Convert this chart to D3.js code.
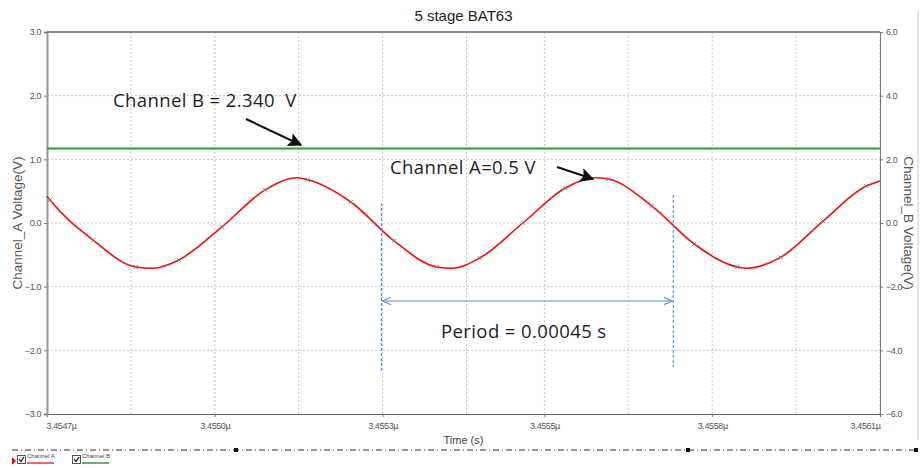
<!DOCTYPE html>
<html>
<head>
<meta charset="utf-8">
<script src="https://cdn.jsdelivr.net/npm/d3@7"></script>
<style>
  body { margin: 0; background: #fff; }
  svg { display: block; font-family: "Liberation Sans", Arial, sans-serif; }
  .tick text { font-size: 9px; fill: #555; letter-spacing: -0.4px; }
  .grid line { stroke: #c8c8c8; stroke-dasharray: 2,2; }
  .note { font-family: "Open Sans", sans-serif; font-size: 18.5px; fill: #1c1c2a; letter-spacing: 0.4px; }
</style>
</head>
<body>
<script>
// Channel A samples (time in s, voltage in V) with markers
var markerTimes = [3.454725, 3.454797, 3.454868, 3.454940, 3.455012, 3.455084, 3.455155,
  3.455227, 3.455299, 3.455370, 3.455442, 3.455514, 3.455585, 3.455657, 3.455729,
  3.455800, 3.455872, 3.455944, 3.456015, 3.456087];
var markerValues = [0.36, -0.27, -0.69, -0.58, -0.06, 0.52, 0.68, 0.33, -0.28, -0.69,
  -0.55, 0.00, 0.55, 0.69, 0.27, -0.33, -0.69, -0.54, 0.03, 0.58];
// extra unmarked points of the trace: ends and turning points
var extraTimes = [3.45472, 3.454897, 3.455137, 3.455396, 3.455634, 3.455888, 3.45611];
var extraValues = [0.42, -0.71, 0.71, -0.71, 0.71, -0.71, 0.66];

var channelB = 2.34;

var xTicks = [3.45472, 3.45500, 3.45528, 3.45555, 3.45583, 3.45611];
var xTickLabels = ["3.4547\u00b5", "3.4550\u00b5", "3.4553\u00b5", "3.4555\u00b5", "3.4558\u00b5", "3.4561\u00b5"];
var xGrid = [3.45486, 3.45514, 3.45542, 3.45569, 3.45597];
var yTicksA = [-3, -2, -1, 0, 1, 2, 3];
var yTicksB = [-6, -4, -2, 0, 2, 4, 6];

var periodStart = 3.455278, periodEnd = 3.455765;

var W = 921, H = 468;
var margin = { top: 32, right: 41, bottom: 54, left: 47 };
var width = W - margin.left - margin.right,
    height = H - margin.top - margin.bottom;

var svg = d3.select("body").append("svg").attr("width", W).attr("height", H);

var x = d3.scaleLinear().domain([xTicks[0], xTicks[xTicks.length - 1]]).range([0, width]);
var yA = d3.scaleLinear().domain([-3, 3]).range([height, 0]);
var yB = d3.scaleLinear().domain([-6, 6]).range([height, 0]);

var defs = svg.append("defs");
defs.append("marker").attr("id", "blk")
  .attr("viewBox", "0 0 10 10").attr("refX", 9).attr("refY", 5)
  .attr("markerWidth", 7).attr("markerHeight", 7).attr("orient", "auto")
  .append("path").attr("d", "M0,0 L10,5 L0,10 L2,5 z").attr("fill", "#111");
defs.append("marker").attr("id", "blu")
  .attr("viewBox", "0 0 10 10").attr("refX", 9).attr("refY", 5)
  .attr("markerWidth", 8).attr("markerHeight", 8).attr("orient", "auto-start-reverse")
  .append("path").attr("d", "M0,1 L9,5 L0,9").attr("fill", "none").attr("stroke", "#5b8ed1").attr("stroke-width", 1.2);

// title
svg.append("text").attr("x", margin.left + width / 2).attr("y", 21)
  .attr("text-anchor", "middle").attr("font-size", 15).attr("fill", "#222")
  .text("5 stage BAT63");

var g = svg.append("g").attr("transform", "translate(" + margin.left + "," + margin.top + ")");

// grid
var grid = g.append("g").attr("class", "grid");
grid.selectAll(".gx").data(xTicks.concat(xGrid)).enter().append("line")
  .attr("x1", function (d) { return x(d); }).attr("x2", function (d) { return x(d); })
  .attr("y1", 0).attr("y2", height);
grid.selectAll(".gy").data(yTicksA.slice(1, -1)).enter().append("line")
  .attr("x1", 0).attr("x2", width)
  .attr("y1", function (d) { return yA(d); }).attr("y2", function (d) { return yA(d); });

// axes
var xAxis = d3.axisBottom(x).tickValues(xTicks).tickSize(3).tickPadding(6)
  .tickFormat(function (d, i) { return xTickLabels[i]; });
var gx = g.append("g").attr("transform", "translate(0," + height + ")").call(xAxis);
gx.selectAll(".tick text").attr("text-anchor", function (d, i) { return i == 0 ? "start" : (i == xTicks.length - 1 ? "end" : "middle"); });
gx.selectAll(".tick").filter(function (d, i) { return i == 0; }).select("text").attr("dx", "-1");
gx.select(".domain").attr("stroke", "#666");

var gyA = g.append("g").call(d3.axisLeft(yA).tickValues(yTicksA).tickSize(3).tickPadding(3).tickFormat(d3.format(".1f")));
gyA.select(".domain").attr("stroke", "#999").attr("stroke-width", 2);
var gyB = g.append("g").attr("transform", "translate(" + width + ",0)")
  .call(d3.axisRight(yB).tickValues(yTicksB).tickSize(3).tickPadding(3).tickFormat(d3.format(".1f")));
gyB.select(".domain").attr("stroke", "#777");
svg.selectAll(".tick line").attr("stroke", "#777");

// top border
g.append("line").attr("x1", 0).attr("x2", width).attr("y1", 0).attr("y2", 0).attr("stroke", "#666").attr("stroke-width", 1.5);

// axis titles
svg.append("text").attr("transform", "translate(22," + (margin.top + height / 2) + ") rotate(-90)")
  .attr("text-anchor", "middle").attr("font-size", 13.5).attr("fill", "#555").text("Channel_A Voltage(V)");
svg.append("text").attr("transform", "translate(904," + (margin.top + height / 2) + ") rotate(90)")
  .attr("text-anchor", "middle").attr("font-size", 13.5).attr("fill", "#555").text("Channel_B Voltage(V)");
svg.append("text").attr("x", margin.left + width / 2).attr("y", 444)
  .attr("text-anchor", "middle").attr("font-size", 11).attr("fill", "#444").text("Time (s)");

// channel B line
g.append("line").attr("x1", 0).attr("x2", width)
  .attr("y1", yB(channelB)).attr("y2", yB(channelB))
  .attr("stroke", "#2ca02c").attr("stroke-width", 2);

// channel A trace
var pts = markerTimes.map(function (t, i) { return [t, markerValues[i]]; })
  .concat(extraTimes.map(function (t, i) { return [t, extraValues[i]]; }))
  .sort(function (a, b) { return a[0] - b[0]; });
var line = d3.line().x(function (d) { return x(d[0]); }).y(function (d) { return yA(d[1]); })
  .curve(d3.curveMonotoneX);
g.append("path").datum(pts).attr("d", line).attr("fill", "none")
  .attr("stroke", "#f01010").attr("stroke-width", 1.6);

g.selectAll(".mk").data(markerTimes).enter().append("path")
  .attr("transform", function (d, i) { return "translate(" + x(d) + "," + yA(markerValues[i]) + ")"; })
  .attr("d", "M-2,-2L2,2M-2,2L2,-2").attr("stroke", "#777").attr("stroke-width", 1);

// annotations
svg.append("text").attr("class", "note").attr("x", 113).attr("y", 107).text("Channel B = 2.340\u00a0 V");
svg.append("line").attr("x1", 246).attr("y1", 119).attr("x2", 301).attr("y2", 145)
  .attr("stroke", "#111").attr("stroke-width", 2).attr("marker-end", "url(#blk)");
svg.append("text").attr("class", "note").attr("x", 390).attr("y", 174).text("Channel A=0.5 V");
svg.append("line").attr("x1", 557).attr("y1", 167).attr("x2", 593).attr("y2", 179)
  .attr("stroke", "#111").attr("stroke-width", 2).attr("marker-end", "url(#blk)");

// period markers
[[periodStart, 203, 373], [periodEnd, 195, 367]].forEach(function (p) {
  svg.append("line").attr("x1", margin.left + x(p[0])).attr("x2", margin.left + x(p[0]))
    .attr("y1", p[1]).attr("y2", p[2]).attr("stroke", "#4a7fc8").attr("stroke-width", 1)
    .attr("stroke-dasharray", "3,2");
});
svg.append("line").attr("x1", margin.left + x(periodStart) + 1).attr("x2", margin.left + x(periodEnd) - 1)
  .attr("y1", 301).attr("y2", 301).attr("stroke", "#5b8ed1").attr("stroke-width", 1.2)
  .attr("marker-start", "url(#blu)").attr("marker-end", "url(#blu)");
svg.append("text").attr("class", "note").attr("x", 441).attr("y", 338).text("Period = 0.00045 s");

// bottom strip
svg.append("line").attr("x1", 12).attr("x2", 916).attr("y1", 450).attr("y2", 450)
  .attr("stroke", "#333").attr("stroke-dasharray", "6,3,1,3");
[236, 688, 916].forEach(function (px) {
  svg.append("rect").attr("x", px - 2).attr("y", 448).attr("width", 4).attr("height", 4).attr("fill", "#111");
});
svg.append("line").attr("x1", 918).attr("x2", 918).attr("y1", 10).attr("y2", 440).attr("stroke", "#ccc");

// legend
svg.append("path").attr("d", "M12,457 L16,461 L12,465 z").attr("fill", "#e00");
var legend = [["Channel A", "#ee3333", 17], ["Channel B", "#2ca02c", 72]];
legend.forEach(function (l) {
  var lg = svg.append("g").attr("transform", "translate(" + l[2] + ",455)");
  lg.append("rect").attr("x", 0.5).attr("y", 0.5).attr("width", 8).attr("height", 8)
    .attr("fill", "#fff").attr("stroke", "#555");
  lg.append("path").attr("d", "M2,4 L4,6.5 L7,2").attr("fill", "none").attr("stroke", "#111").attr("stroke-width", 1.2);
  lg.append("text").attr("x", 10).attr("y", 3).attr("font-size", 6).attr("fill", "#444").text(l[0]);
  lg.append("line").attr("x1", 10).attr("x2", 37).attr("y1", 8).attr("y2", 8).attr("stroke", l[1]).attr("stroke-width", 1.5);
});
</script>
</body>
</html>
